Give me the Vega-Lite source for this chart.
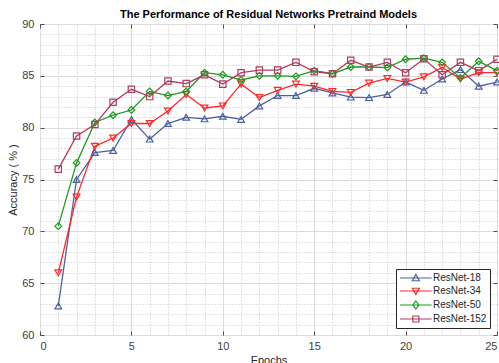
{
  "$schema": "https://vega.github.io/schema/vega-lite/v6.json",
  "width": 457,
  "height": 311,
  "autosize": "none",
  "padding": {"left": 40, "top": 24, "right": 2, "bottom": 28},
  "config": {
    "font": "Liberation Sans",
    "view": {"stroke": "#4d4d4d", "strokeWidth": 1},
    "axis": {"labelFont": "Liberation Sans", "titleFont": "Liberation Sans", "labelColor": "#404040", "titleColor": "#262626", "labelFontSize": 11, "titleFontSize": 11, "titleFontWeight": "normal"}
  },
  "title": {"text": "The Performance of Residual Networks Pretraind Models", "fontSize": 11, "fontWeight": "bold", "font": "Liberation Sans", "color": "#000000", "anchor": "middle", "offset": -2},
  "data": {
    "values": [
      {"epoch": 1, "model": "ResNet-18", "acc": 62.8},
      {"epoch": 2, "model": "ResNet-18", "acc": 75.0},
      {"epoch": 3, "model": "ResNet-18", "acc": 77.6},
      {"epoch": 4, "model": "ResNet-18", "acc": 77.8},
      {"epoch": 5, "model": "ResNet-18", "acc": 80.8},
      {"epoch": 6, "model": "ResNet-18", "acc": 78.9},
      {"epoch": 7, "model": "ResNet-18", "acc": 80.4},
      {"epoch": 8, "model": "ResNet-18", "acc": 81.0},
      {"epoch": 9, "model": "ResNet-18", "acc": 80.85},
      {"epoch": 10, "model": "ResNet-18", "acc": 81.1},
      {"epoch": 11, "model": "ResNet-18", "acc": 80.8},
      {"epoch": 12, "model": "ResNet-18", "acc": 82.1},
      {"epoch": 13, "model": "ResNet-18", "acc": 83.1},
      {"epoch": 14, "model": "ResNet-18", "acc": 83.1},
      {"epoch": 15, "model": "ResNet-18", "acc": 83.8},
      {"epoch": 16, "model": "ResNet-18", "acc": 83.35},
      {"epoch": 17, "model": "ResNet-18", "acc": 82.95},
      {"epoch": 18, "model": "ResNet-18", "acc": 82.9},
      {"epoch": 19, "model": "ResNet-18", "acc": 83.2},
      {"epoch": 20, "model": "ResNet-18", "acc": 84.4},
      {"epoch": 21, "model": "ResNet-18", "acc": 83.6},
      {"epoch": 22, "model": "ResNet-18", "acc": 84.7},
      {"epoch": 23, "model": "ResNet-18", "acc": 85.6},
      {"epoch": 24, "model": "ResNet-18", "acc": 84.0},
      {"epoch": 25, "model": "ResNet-18", "acc": 84.4},
      {"epoch": 1, "model": "ResNet-34", "acc": 66.0},
      {"epoch": 2, "model": "ResNet-34", "acc": 73.3},
      {"epoch": 3, "model": "ResNet-34", "acc": 78.2},
      {"epoch": 4, "model": "ResNet-34", "acc": 79.0},
      {"epoch": 5, "model": "ResNet-34", "acc": 80.4},
      {"epoch": 6, "model": "ResNet-34", "acc": 80.4},
      {"epoch": 7, "model": "ResNet-34", "acc": 81.6},
      {"epoch": 8, "model": "ResNet-34", "acc": 83.2},
      {"epoch": 9, "model": "ResNet-34", "acc": 81.9},
      {"epoch": 10, "model": "ResNet-34", "acc": 82.1},
      {"epoch": 11, "model": "ResNet-34", "acc": 84.2},
      {"epoch": 12, "model": "ResNet-34", "acc": 82.9},
      {"epoch": 13, "model": "ResNet-34", "acc": 83.6},
      {"epoch": 14, "model": "ResNet-34", "acc": 84.2},
      {"epoch": 15, "model": "ResNet-34", "acc": 84.0},
      {"epoch": 16, "model": "ResNet-34", "acc": 83.5},
      {"epoch": 17, "model": "ResNet-34", "acc": 83.4},
      {"epoch": 18, "model": "ResNet-34", "acc": 84.3},
      {"epoch": 19, "model": "ResNet-34", "acc": 84.75},
      {"epoch": 20, "model": "ResNet-34", "acc": 84.4},
      {"epoch": 21, "model": "ResNet-34", "acc": 84.9},
      {"epoch": 22, "model": "ResNet-34", "acc": 85.8},
      {"epoch": 23, "model": "ResNet-34", "acc": 84.7},
      {"epoch": 24, "model": "ResNet-34", "acc": 85.3},
      {"epoch": 25, "model": "ResNet-34", "acc": 85.3},
      {"epoch": 1, "model": "ResNet-50", "acc": 70.5},
      {"epoch": 2, "model": "ResNet-50", "acc": 76.6},
      {"epoch": 3, "model": "ResNet-50", "acc": 80.5},
      {"epoch": 4, "model": "ResNet-50", "acc": 81.2},
      {"epoch": 5, "model": "ResNet-50", "acc": 81.7},
      {"epoch": 6, "model": "ResNet-50", "acc": 83.5},
      {"epoch": 7, "model": "ResNet-50", "acc": 83.1},
      {"epoch": 8, "model": "ResNet-50", "acc": 83.5},
      {"epoch": 9, "model": "ResNet-50", "acc": 85.3},
      {"epoch": 10, "model": "ResNet-50", "acc": 85.1},
      {"epoch": 11, "model": "ResNet-50", "acc": 84.6},
      {"epoch": 12, "model": "ResNet-50", "acc": 85.0},
      {"epoch": 13, "model": "ResNet-50", "acc": 85.0},
      {"epoch": 14, "model": "ResNet-50", "acc": 84.95},
      {"epoch": 15, "model": "ResNet-50", "acc": 85.5},
      {"epoch": 16, "model": "ResNet-50", "acc": 85.2},
      {"epoch": 17, "model": "ResNet-50", "acc": 85.85},
      {"epoch": 18, "model": "ResNet-50", "acc": 85.85},
      {"epoch": 19, "model": "ResNet-50", "acc": 85.8},
      {"epoch": 20, "model": "ResNet-50", "acc": 86.6},
      {"epoch": 21, "model": "ResNet-50", "acc": 86.7},
      {"epoch": 22, "model": "ResNet-50", "acc": 86.3},
      {"epoch": 23, "model": "ResNet-50", "acc": 84.8},
      {"epoch": 24, "model": "ResNet-50", "acc": 86.4},
      {"epoch": 25, "model": "ResNet-50", "acc": 85.5},
      {"epoch": 1, "model": "ResNet-152", "acc": 76.0},
      {"epoch": 2, "model": "ResNet-152", "acc": 79.2},
      {"epoch": 3, "model": "ResNet-152", "acc": 80.3},
      {"epoch": 4, "model": "ResNet-152", "acc": 82.45},
      {"epoch": 5, "model": "ResNet-152", "acc": 83.7},
      {"epoch": 6, "model": "ResNet-152", "acc": 83.0},
      {"epoch": 7, "model": "ResNet-152", "acc": 84.5},
      {"epoch": 8, "model": "ResNet-152", "acc": 84.25},
      {"epoch": 9, "model": "ResNet-152", "acc": 85.1},
      {"epoch": 10, "model": "ResNet-152", "acc": 84.2},
      {"epoch": 11, "model": "ResNet-152", "acc": 85.3},
      {"epoch": 12, "model": "ResNet-152", "acc": 85.55},
      {"epoch": 13, "model": "ResNet-152", "acc": 85.55},
      {"epoch": 14, "model": "ResNet-152", "acc": 86.3},
      {"epoch": 15, "model": "ResNet-152", "acc": 85.4},
      {"epoch": 16, "model": "ResNet-152", "acc": 85.2},
      {"epoch": 17, "model": "ResNet-152", "acc": 86.5},
      {"epoch": 18, "model": "ResNet-152", "acc": 85.85},
      {"epoch": 19, "model": "ResNet-152", "acc": 86.3},
      {"epoch": 20, "model": "ResNet-152", "acc": 85.3},
      {"epoch": 21, "model": "ResNet-152", "acc": 86.65},
      {"epoch": 22, "model": "ResNet-152", "acc": 85.1},
      {"epoch": 23, "model": "ResNet-152", "acc": 86.3},
      {"epoch": 24, "model": "ResNet-152", "acc": 85.5},
      {"epoch": 25, "model": "ResNet-152", "acc": 86.6}
    ]
  },
  "resolve": {"axis": {"x": "independent", "y": "independent"}},
  "layer": [
    {
      "mark": {"type": "point", "opacity": 0},
      "encoding": {
        "x": {"field": "epoch", "type": "quantitative", "scale": {"domain": [0, 25], "nice": false, "zero": false},
          "axis": {"orient": "bottom", "values": [1,2,3,4,6,7,8,9,11,12,13,14,16,17,18,19,21,22,23,24], "grid": true, "gridDash": [1, 2], "gridColor": "#c4c4c4", "gridOpacity": 1, "labels": false, "ticks": false, "domain": false, "title": null}},
        "y": {"field": "acc", "type": "quantitative", "scale": {"domain": [60, 90], "nice": false, "zero": false},
          "axis": {"orient": "left", "values": [61,62,63,64,66,67,68,69,71,72,73,74,76,77,78,79,81,82,83,84,86,87,88,89], "grid": true, "gridDash": [1, 2], "gridColor": "#c4c4c4", "gridOpacity": 1, "labels": false, "ticks": false, "domain": false, "title": null}}
      }
    },
    {
      "mark": {"type": "line", "strokeWidth": 1.3},
      "encoding": {
        "x": {"field": "epoch", "type": "quantitative",
          "axis": {"orient": "bottom", "values": [0, 5, 10, 15, 20, 25], "grid": true, "gridColor": "#dcdcdc", "gridOpacity": 1, "ticks": true, "tickSize": -4, "tickColor": "#4d4d4d", "labelPadding": 9, "domain": false, "title": "Epochs", "titlePadding": 3}},
        "y": {"field": "acc", "type": "quantitative",
          "axis": {"orient": "left", "values": [60, 65, 70, 75, 80, 85, 90], "grid": true, "gridColor": "#dcdcdc", "gridOpacity": 1, "ticks": true, "tickSize": -4, "tickColor": "#4d4d4d", "labelPadding": 10, "domain": false, "title": "Accuracy ( % )", "titlePadding": 3}},
        "color": {"field": "model", "type": "nominal", "scale": {"domain": ["ResNet-18", "ResNet-34", "ResNet-50", "ResNet-152"], "range": ["#4a62a0", "#ff2828", "#1f9a1f", "#b03c5e"]},
          "legend": {"title": null, "orient": "bottom-right", "offset": 7, "strokeColor": "#262626", "fillColor": "#ffffff", "padding": 3, "rowPadding": 1, "labelFontSize": 10, "labelFont": "Liberation Sans", "labelColor": "#262626", "labelOffset": 22, "symbolSize": 100, "symbolStrokeWidth": 1.2,
            "encode": {"symbols": {"update": {"fill": {"value": "transparent"}, "shape": {"signal": "datum.value === 'ResNet-18' ? 'M-1,0H5.34M2.17,-0.7L2.87,0.55L1.47,0.55Z' : datum.value === 'ResNet-34' ? 'M-1,0H5.34M2.17,0.7L2.87,-0.55L1.47,-0.55Z' : datum.value === 'ResNet-50' ? 'M-1,0H5.34M2.17,-0.8L2.77,0L2.17,0.8L1.57,0Z' : 'M-1,0H5.34M1.57,-0.6H2.77V0.6H1.57Z'"}}}}}}
      }
    },
    {
      "transform": [{"filter": "datum.model === 'ResNet-18'"}],
      "mark": {"type": "point", "shape": "triangle-up", "filled": false, "strokeWidth": 1.2, "size": 45, "opacity": 1},
      "encoding": {
        "x": {"field": "epoch", "type": "quantitative", "axis": null},
        "y": {"field": "acc", "type": "quantitative", "axis": null},
        "color": {"field": "model", "type": "nominal", "legend": null}
      }
    },
    {
      "transform": [{"filter": "datum.model === 'ResNet-34'"}],
      "mark": {"type": "point", "shape": "triangle-down", "filled": false, "strokeWidth": 1.2, "size": 45, "opacity": 1},
      "encoding": {
        "x": {"field": "epoch", "type": "quantitative", "axis": null},
        "y": {"field": "acc", "type": "quantitative", "axis": null},
        "color": {"field": "model", "type": "nominal", "legend": null}
      }
    },
    {
      "transform": [{"filter": "datum.model === 'ResNet-50'"}],
      "mark": {"type": "point", "shape": "diamond", "filled": false, "strokeWidth": 1.2, "size": 45, "opacity": 1},
      "encoding": {
        "x": {"field": "epoch", "type": "quantitative", "axis": null},
        "y": {"field": "acc", "type": "quantitative", "axis": null},
        "color": {"field": "model", "type": "nominal", "legend": null}
      }
    },
    {
      "transform": [{"filter": "datum.model === 'ResNet-152'"}],
      "mark": {"type": "point", "shape": "square", "filled": false, "strokeWidth": 1.2, "size": 40, "opacity": 1},
      "encoding": {
        "x": {"field": "epoch", "type": "quantitative", "axis": null},
        "y": {"field": "acc", "type": "quantitative", "axis": null},
        "color": {"field": "model", "type": "nominal", "legend": null}
      }
    },
    {
      "mark": {"type": "point", "opacity": 0},
      "encoding": {
        "x": {"field": "epoch", "type": "quantitative",
          "axis": {"orient": "top", "values": [0, 5, 10, 15, 20, 25], "grid": false, "labels": false, "ticks": true, "tickSize": -4, "tickColor": "#4d4d4d", "domain": false, "title": null}},
        "y": {"field": "acc", "type": "quantitative",
          "axis": {"orient": "right", "values": [60, 65, 70, 75, 80, 85, 90], "grid": false, "labels": false, "ticks": true, "tickSize": -4, "tickColor": "#4d4d4d", "domain": false, "title": null}}
      }
    }
  ]
}
